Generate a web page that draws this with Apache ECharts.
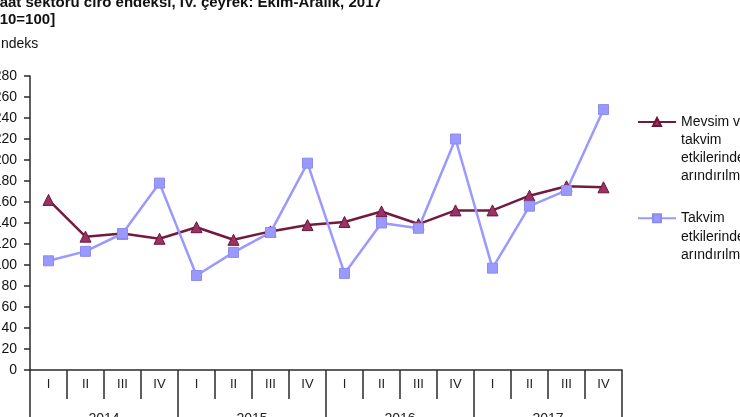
<!DOCTYPE html>
<html>
<head>
<meta charset="utf-8">
<script src="https://cdn.jsdelivr.net/npm/echarts@6/dist/echarts.min.js"></script>
<style>
html,body{margin:0;padding:0;background:#fff;}
#c{width:740px;height:417px;}
</style>
</head>
<body>
<div id="c"></div>
<script>
var quarters = ['I','II','III','IV','I','II','III','IV','I','II','III','IV','I','II','III','IV'];
var years = ['2014','2015','2016','2017'];
var seasonalName = 'Mevsim ve\ntakvim\netkilerinden\narındırılmış';
var calendarName = 'Takvim\netkilerinden\narındırılmış';
var seasonal = [162, 127, 130, 125, 136, 124, 132, 138, 141, 151, 139, 152, 152, 166, 175, 174];
var calendar = [104, 113, 130, 178, 90, 112, 131, 197, 92, 140, 135, 220, 97, 156, 171, 248];
var titleText = 'İnşaat sektörü ciro endeksi, IV. çeyrek: Ekim-Aralık, 2017\n[2010=100]';
var yName = 'İndeks';

var font = 'Liberation Sans, Arial, sans-serif';
var chart = echarts.init(document.getElementById('c'), null, {renderer:'canvas'});
var axisCol = '#2a2a2a';
function topAligned(name) {
  var n = name.split('\n').length;
  var pad = '';
  for (var i = 1; i < n; i++) pad += ' \n';
  return pad + name;
}
chart.setOption({
  backgroundColor: '#ffffff',
  animation: false,
  title: {
    text: titleText,
    left: -22, top: -5, padding: 0,
    textStyle: {fontFamily: font, fontSize: 15, fontWeight: 'bold', color: '#111', lineHeight: 16.5}
  },
  graphic: [{
    type: 'text', left: -3, top: 37,
    style: {text: yName, fontFamily: font, fontSize: 14, fill: '#111'}
  }],
  legend: [{
    data: [seasonalName],
    left: 637, top: 122 - 3 * 18 - 9, padding: 0,
    itemWidth: 38, itemHeight: 10,
    formatter: topAligned,
    textStyle: {fontFamily: font, fontSize: 14, color: '#111', lineHeight: 18}
  },{
    data: [calendarName],
    left: 637, top: 218 - 2 * 18.5 - 9, padding: 0,
    itemWidth: 38, itemHeight: 10,
    formatter: topAligned,
    textStyle: {fontFamily: font, fontSize: 14, color: '#111', lineHeight: 18.5}
  }],
  grid: {left: 30, right: 118, top: 76, bottom: 47, containLabel: false, outerBoundsMode: 'none'},
  xAxis: [{
    type: 'category', data: quarters, position: 'bottom', offset: 0,
    boundaryGap: true,
    axisLine: {show: true, lineStyle: {color: axisCol, width: 1.5}},
    axisTick: {show: true, alignWithLabel: false, length: 29, lineStyle: {color: axisCol, width: 1.5}},
    axisLabel: {margin: 8, fontFamily: font, fontSize: 13, color: '#222'},
    splitLine: {show: false}
  },{
    type: 'category', data: years, position: 'bottom', offset: 0,
    boundaryGap: true,
    axisLine: {show: false},
    axisTick: {show: true, alignWithLabel: false, length: 60, lineStyle: {color: axisCol, width: 1.5}},
    axisLabel: {margin: 42, fontFamily: font, fontSize: 14, color: '#222'},
    splitLine: {show: false}
  }],
  yAxis: {
    type: 'value', min: 0, max: 280, interval: 20,
    axisLine: {show: true, lineStyle: {color: axisCol, width: 1.5}},
    axisTick: {show: true, length: 6, lineStyle: {color: axisCol, width: 1.5}},
    axisLabel: {margin: 13, fontFamily: font, fontSize: 14, color: '#111'},
    splitLine: {show: false}
  },
  series: [{
    name: seasonalName, type: 'line', data: seasonal,
    symbol: 'triangle', symbolSize: 11,
    itemStyle: {color: '#993366', borderColor: '#6e1538', borderWidth: 1},
    lineStyle: {color: '#731a40', width: 2.5}
  },{
    name: calendarName, type: 'line', data: calendar,
    symbol: 'rect', symbolSize: 10,
    itemStyle: {color: '#9999FF', borderColor: '#8c8cf0', borderWidth: 1},
    lineStyle: {color: '#9999FF', width: 2.5}
  }]
});
</script>
</body>
</html>
